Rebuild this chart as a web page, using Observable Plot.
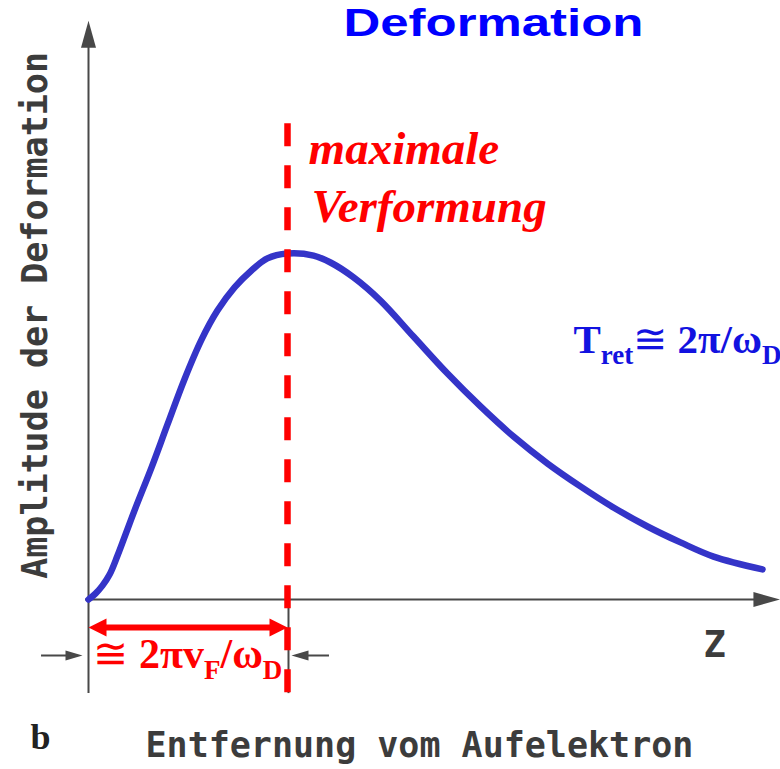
<!DOCTYPE html>
<html>
<head>
<meta charset="utf-8">
<script src="https://cdn.jsdelivr.net/npm/d3@7"></script>
<script src="https://cdn.jsdelivr.net/npm/@observablehq/plot@0.6"></script>
<style>
  html, body { margin: 0; padding: 0; background: white; overflow: hidden; }
  #chart svg { display: block; }
</style>
</head>
<body>
<div id="chart"></div>
<script>
// ---- data (distance in units of 2πv_F/ω_D, amplitude relative to maximum) ----
const distance = [0, 0.035, 0.070, 0.106, 0.146, 0.231, 0.317, 0.397, 0.482, 0.568, 0.648, 0.734, 0.819, 0.899,
  1.000, 1.131, 1.216, 1.332, 1.467, 1.633, 1.804, 1.970, 2.136, 2.307, 2.472, 2.638, 2.809, 2.975, 3.141, 3.387];
const amplitude = [0, 0.017, 0.040, 0.072, 0.127, 0.257, 0.382, 0.506, 0.636, 0.751, 0.835, 0.902, 0.951, 0.986,
  1.000, 0.994, 0.974, 0.931, 0.864, 0.760, 0.653, 0.558, 0.471, 0.393, 0.327, 0.266, 0.211, 0.165, 0.124, 0.087];
const maxPosition = [1];               // position of maximal deformation
const titleText = ["Deformation"];
const yLabel = ["Amplitude der Deformation"];
const xLabel = ["Entfernung vom Aufelektron"];
const axisName = ["Z"];
const panelLetter = ["b"];
const maxLabel = ["maximale", "Verformung"];
const retardLabel = ["T_{ret}≅ 2π/ω_{D}"];
const distLabel = ["≅ 2πv_{F}/ω_{D}"];

const curve = distance.map((d, i) => ({d, a: amplitude[i]}));

// ---- layout ----
const AX = "#484848";
const RED = "#ff0000";
const BLUE = "#1212e0";
const xAxisEnd = 3.477, yAxisEnd = 1.673, below = -0.272;
const arrowRowA = -0.081, smallRowA = -0.162;

const headAxis = {draw(c) { c.moveTo(0, 0); c.lineTo(-27, -7.5); c.lineTo(-27, 7.5); c.closePath(); }};
const headRed = {draw(c) { c.moveTo(0, 0); c.lineTo(-18, -9); c.lineTo(-18, 9); c.closePath(); }};
const headSmall = {draw(c) { c.moveTo(0, 0); c.lineTo(-17, -5); c.lineTo(-17, 5); c.closePath(); }};

function label(arr, x, y, opts) {
  return Plot.text(arr, {x: () => x, y: () => y, text: d => d, lineAnchor: "bottom", ...opts});
}
function head(x, y, sym, fill, rotate) {
  return Plot.dot([0], {x: () => x, y: () => y, symbol: sym, r: 1, fill, stroke: "none", rotate});
}

const serifBold = "'Liberation Serif', 'Times New Roman', serif";
const mono = "'DejaVu Sans Mono', monospace";

const chart = Plot.plot({
  width: 780, height: 769, margin: 0,
  x: {domain: [0, 1], range: [88, 287], axis: null},
  y: {domain: [0, 1], range: [599, 253], axis: null},
  style: {background: "white", overflow: "visible"},
  marks: [
    // axes
    Plot.ruleY([0], {x1: -0.015, x2: xAxisEnd - 0.05, stroke: AX, strokeWidth: 2}),
    Plot.ruleX([0], {y1: below, y2: yAxisEnd - 0.05, stroke: AX, strokeWidth: 2}),
    head(xAxisEnd, 0, headAxis, AX, 0),
    head(0, yAxisEnd, headAxis, AX, -90),
    Plot.ruleX(maxPosition, {x: d => d + 0.005, y1: 0, y2: below, stroke: AX, strokeWidth: 2}),
    // curve
    Plot.line(curve, {x: "d", y: "a", stroke: "#3434c8", strokeWidth: 6.5, curve: "catmull-rom"}),
    // maximal deformation dashed line
    Plot.ruleX(maxPosition, {y1: 1.375, y2: below, stroke: RED, strokeWidth: 6.5, strokeDasharray: "23,19"}),
    // red double arrow
    Plot.ruleY([arrowRowA], {x1: 0.06, x2: 0.94, stroke: RED, strokeWidth: 6}),
    head(0, arrowRowA, headRed, RED, 180),
    head(1, arrowRowA, headRed, RED, 0),
    // small black arrows
    Plot.ruleY([smallRowA], {x1: -0.236, x2: -0.06, stroke: AX, strokeWidth: 2}),
    head(-0.030, smallRowA, headSmall, AX, 0),
    Plot.ruleY([smallRowA], {x1: 1.05, x2: 1.211, stroke: AX, strokeWidth: 2}),
    head(1.020, smallRowA, headSmall, AX, 180),
    // texts
    label(titleText, 2.035, 1.630, {fill: "#0000ff", fontSize: 38, fontWeight: "bold", fontFamily: "'Liberation Sans', Arial, sans-serif"}),
    label(maxLabel.slice(0, 1), 1.106, 1.260, {fill: RED, fontSize: 47, fontWeight: "bold", fontStyle: "italic", fontFamily: serifBold, textAnchor: "start"}),
    label(maxLabel.slice(1), 1.121, 1.090, {fill: RED, fontSize: 47, fontWeight: "bold", fontStyle: "italic", fontFamily: serifBold, textAnchor: "start"}),
    label(retardLabel, 2.437, 0.711, {fill: BLUE, fontSize: 41, fontWeight: "bold", fontFamily: serifBold, textAnchor: "start"}),
    label(distLabel, 0.025, -0.197, {fill: RED, fontSize: 42, fontWeight: "bold", fontFamily: serifBold, textAnchor: "start"}),
    label(axisName, 3.146, -0.165, {fill: "#3c3c3c", fontSize: 37, fontWeight: "bold", fontFamily: mono}),
    label(xLabel, 1.663, -0.454, {fill: "#3c3c3c", fontSize: 35, fontWeight: "bold", fontFamily: mono}),
    label(panelLetter, -0.291, -0.431, {fill: "#222", fontSize: 36, fontWeight: "bold", fontFamily: serifBold, textAnchor: "start"}),
    Plot.text(yLabel, {x: () => -0.266, y: () => 0.821, text: d => d, rotate: -90, lineAnchor: "middle",
      fill: "#3c3c3c", fontSize: 35, fontWeight: "bold", fontFamily: mono})
  ]
});

// subscripts: turn "_{...}" into lowered, smaller tspans; ≅ drawn lighter
d3.select(chart).selectAll("text").each(function () {
  const s = this.textContent;
  if (s === titleText[0]) {
    this.setAttribute("textLength", 300);
    this.setAttribute("lengthAdjust", "spacingAndGlyphs");
    return;
  }
  if (!s.includes("_{")) return;
  const parts = s.split(/(_\{[^}]*\}|≅)/).filter(p => p.length);
  this.textContent = "";
  const shift = 11;
  let lowered = false;
  for (const p of parts) {
    const t = document.createElementNS("http://www.w3.org/2000/svg", "tspan");
    if (p.startsWith("_{")) {
      t.textContent = p.slice(2, -1);
      t.setAttribute("font-size", "27");
      if (!lowered) t.setAttribute("dy", shift);
      lowered = true;
    } else {
      t.textContent = p;
      if (p === "≅") t.setAttribute("font-weight", "normal");
      if (lowered) t.setAttribute("dy", -shift);
      lowered = false;
    }
    this.appendChild(t);
  }
});

document.getElementById("chart").appendChild(chart);
</script>
</body>
</html>
